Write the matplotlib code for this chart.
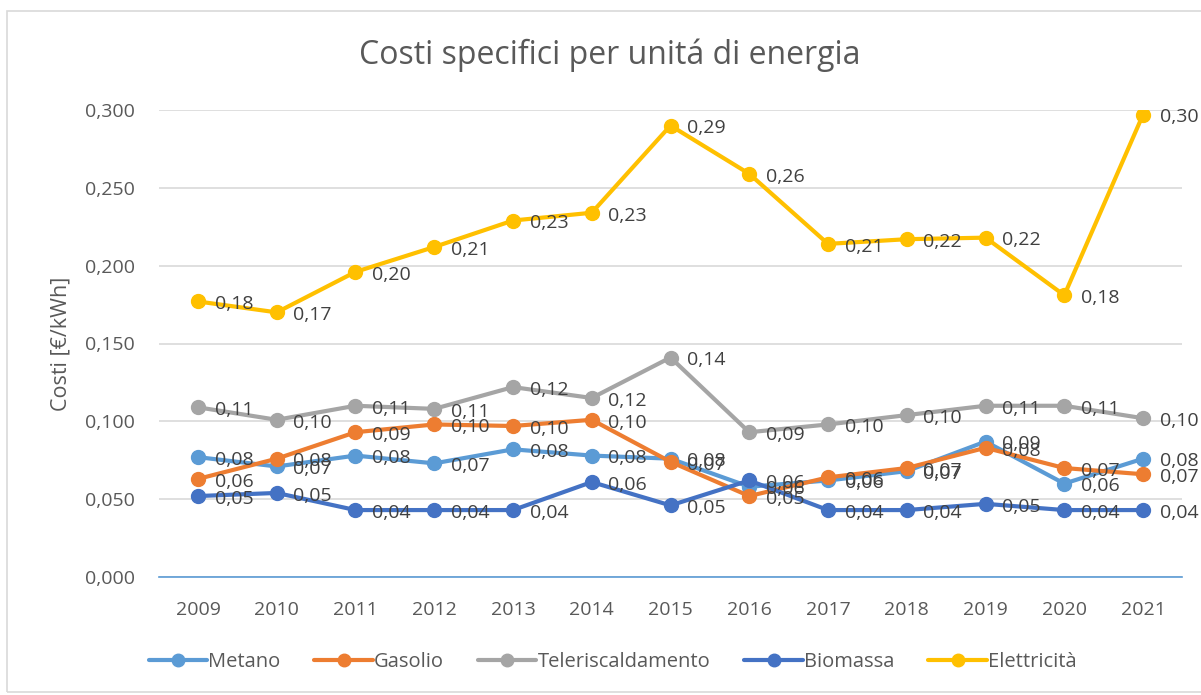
import matplotlib
matplotlib.use("Agg")
import matplotlib.pyplot as plt
from matplotlib.patches import Rectangle

years = [2009, 2010, 2011, 2012, 2013, 2014, 2015, 2016, 2017, 2018, 2019, 2020, 2021]
metano = [0.077, 0.071, 0.078, 0.073, 0.082, 0.078, 0.076, 0.058, 0.062, 0.068, 0.087, 0.060, 0.076]
gasolio = [0.063, 0.076, 0.093, 0.098, 0.097, 0.101, 0.074, 0.052, 0.064, 0.070, 0.083, 0.070, 0.066]
teleriscaldamento = [0.109, 0.101, 0.110, 0.108, 0.122, 0.115, 0.141, 0.093, 0.098, 0.104, 0.110, 0.110, 0.102]
biomassa = [0.052, 0.054, 0.043, 0.043, 0.043, 0.061, 0.046, 0.062, 0.043, 0.043, 0.047, 0.043, 0.043]
elettricita = [0.177, 0.170, 0.196, 0.212, 0.229, 0.234, 0.290, 0.259, 0.214, 0.217, 0.218, 0.181, 0.297]
yticks = [0.0, 0.05, 0.10, 0.15, 0.20, 0.25, 0.30]

series = [
    ("Metano", metano, "#5B9BD5"),
    ("Gasolio", gasolio, "#ED7D31"),
    ("Teleriscaldamento", teleriscaldamento, "#A5A5A5"),
    ("Biomassa", biomassa, "#4472C4"),
    ("Elettricità", elettricita, "#FFC000"),
]

plt.rcParams['font.family'] = ['Open Sans', 'DejaVu Sans']

fig = plt.figure(figsize=(12.01, 6.95), dpi=100)
fig.patches.append(Rectangle((7/1201, 3/695), 1.1, 681/695, transform=fig.transFigure,
                             fill=False, edgecolor="#D9D9D9", linewidth=1.2))
ax = fig.add_axes([158.6/1201, 1 - 577/695, (1182.4 - 158.6)/1201, (577 - 110)/695])

x = list(range(len(years)))
for name, vals, col in series:
    ax.plot(x, vals, color=col, lw=3, marker='o', markersize=10, label=name,
            solid_capstyle='round', zorder=3)
for name, vals, col in series:
    for xi, v in zip(x, vals):
        ax.annotate(f"{v:.2f}".replace('.', ','), (xi, v), xytext=(12, -2),
                    textcoords='offset points', va='center', ha='left',
                    fontsize=14, color='#404040', zorder=4, annotation_clip=False)

ax.set_xlim(-0.5, len(years) - 0.5)
ax.set_ylim(0, 0.30)
ax.set_yticks(yticks)
ax.set_yticklabels([f"{t:.3f}".replace('.', ',') for t in yticks])
ax.set_xticks(x)
ax.set_xticklabels([str(y) for y in years])
ax.tick_params(axis='both', length=0, labelsize=14, colors='#595959')
ax.tick_params(axis='y', pad=17)
ax.tick_params(axis='x', pad=17)
for s in ['top', 'right', 'left']:
    ax.spines[s].set_visible(False)
ax.spines['bottom'].set_color('#5B9BD5')
ax.spines['bottom'].set_linewidth(1.2)
ax.grid(axis='y', color='#D9D9D9', lw=1.2, zorder=0)
ax.set_axisbelow(True)
ax.set_ylabel("Costi [€/kWh]", fontsize=15.5, color='#595959')
ax.yaxis.set_label_coords(-0.0846, 0.5)

fig.text(0.5075, 1 - 55/695, "Costi specifici per unitá di energia", ha='center', va='center',
         fontsize=23, color='#595959')

leg = fig.legend(loc='center', bbox_to_anchor=(0.51, 1 - 662/695), ncol=5, frameon=False,
                 fontsize=14.5, handlelength=2.9, columnspacing=1.7, handletextpad=0.05,
                 markerscale=0.9)
for t in leg.get_texts():
    t.set_color('#595959')

fig.savefig("out.png", dpi=100)
